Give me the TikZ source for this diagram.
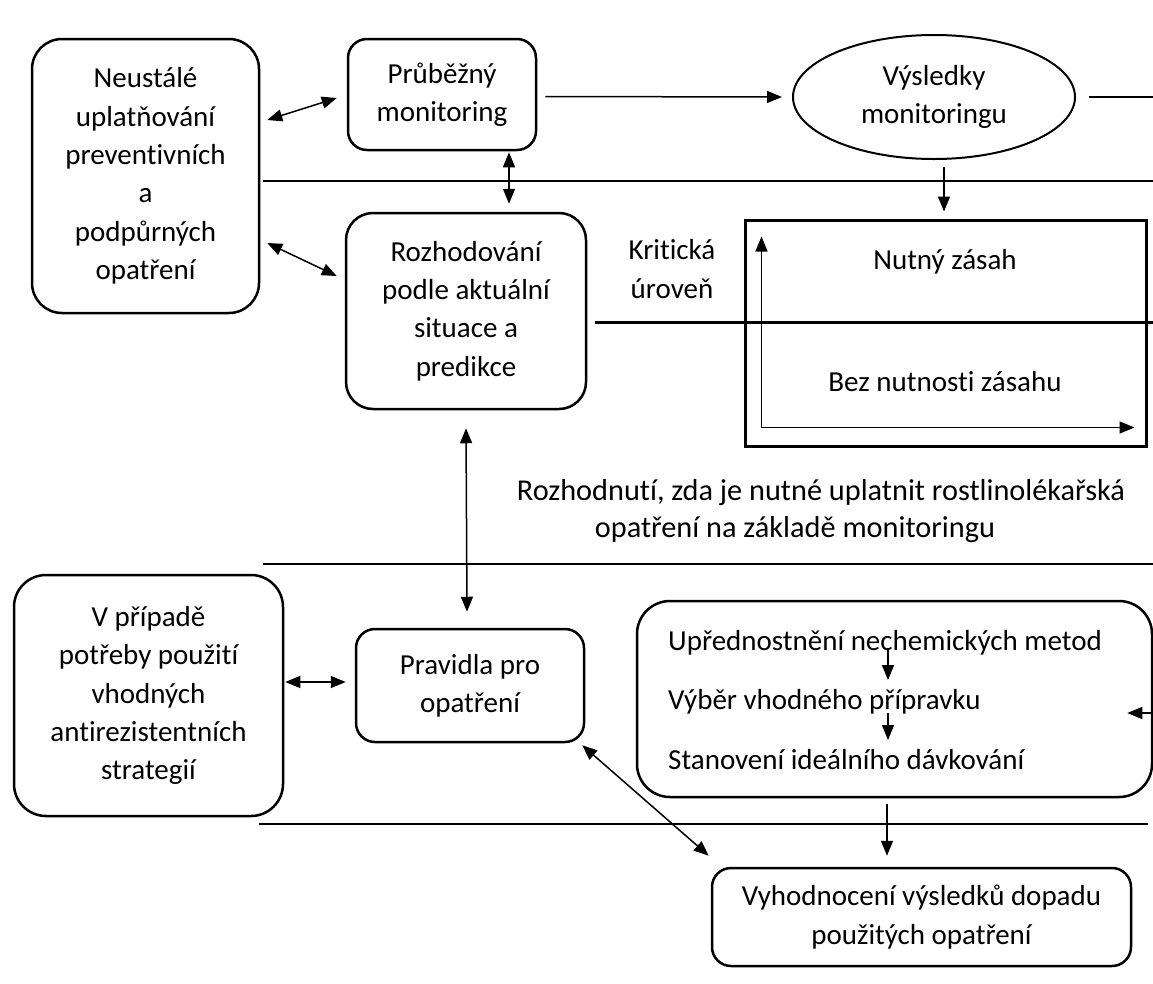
\documentclass[tikz,border=0pt]{standalone}
\usepackage{fontspec}
\setmainfont{Carlito}[Ligatures=NoCommon]
\usepackage{tikz}
\usetikzlibrary{shapes.geometric,arrows.meta}

\begin{document}
\begin{tikzpicture}[x=1pt, y=-1pt,
  font=\fontsize{29}{38.4}\selectfont,
  >={Triangle[length=15pt,width=12pt]},
  bigbox/.style={draw, line width=2.5pt, rounded corners=30pt, align=center, inner sep=0pt},
  smallbox/.style={bigbox, rounded corners=19pt},
  conn/.style={line width=1.5pt},
  divider/.style={line width=1.2pt},
  txt/.style={inner sep=0pt, align=center},
  bigtxt/.style={txt, font=\fontsize{30.3}{38.4}\selectfont}]
\useasboundingbox (0,0) rectangle (1153,983);

\node[bigbox, minimum width=227pt, minimum height=274pt] (prevent) at (145.5,176) {Neustálé\\uplatňování\\preventivních\\a\\podpůrných\\opatření};
\node[smallbox, minimum width=188pt, minimum height=111pt] (monitor) at (442,94.5) {Průběžný\\monitoring};
\node[draw, ellipse, line width=2pt, minimum width=282pt, minimum height=124pt, txt] (results) at (934,97) {Výsledky\\monitoringu};
\node[bigbox, rounded corners=27pt, minimum width=240pt, minimum height=196pt] (decide) at (466,311) {Rozhodování\\podle aktuální\\situace a\\predikce};
\node[txt] (critlabel) at (672,269) {Kritická\\úroveň};
\node[draw, line width=3pt, minimum width=401pt, minimum height=226pt, inner sep=0pt] (crit) at (945.5,333) {};
\node[txt] (need) at (945,262) {Nutný zásah};
\node[txt] (noneed) at (945,382) {Bez nutnosti zásahu};
\node[bigtxt] (question) at (821,493) {Rozhodnutí, zda je nutné uplatnit rostlinolékařská};
\node[bigtxt] (question2) at (795,530) {opatření na základě monitoringu};
\node[bigbox, rounded corners=32pt, minimum width=269pt, minimum height=241pt] (antires) at (148.5,695.5) {V případě\\potřeby použití\\vhodných\\antirezistentních\\strategií};
\node[smallbox, minimum width=228pt, minimum height=113pt] (rules) at (470,685.5) {Pravidla pro\\opatření};
\node[bigbox, rounded corners=33pt, minimum width=515pt, minimum height=196pt] (steps) at (894.5,699) {};
\node[txt, anchor=base west] (s1) at (668,650) {Upřednostnění nechemických metod};
\node[txt, anchor=base west] (s2) at (668,709) {Výběr vhodného přípravku};
\node[txt, anchor=base west] (s3) at (668,769) {Stanovení ideálního dávkování};
\node[smallbox, minimum width=419pt, minimum height=98pt] (evaluate) at (921.5,917) {Vyhodnocení výsledků dopadu\\použitých opatření};

\draw[divider] (263,181) -- (1153,181);
\draw[divider] (263,564) -- (1153,564);
\draw[divider] (259,824) -- (1148,824);
\draw[line width=3pt] (595,322) -- (1153,322);

\draw[conn, <->] ([xshift=7pt,yshift=56pt]prevent.east) -- ([xshift=-10pt,yshift=-3.5pt]monitor.west);
\draw[conn, <->] ([xshift=7pt,yshift=-67pt]prevent.east) -- ([xshift=-8pt,yshift=35pt]decide.west);
\draw[conn, <->] ([xshift=67pt,yshift=-1pt]monitor.south) -- ([xshift=43pt,yshift=8pt]decide.north);
\draw[conn, ->] ([xshift=8pt,yshift=-2pt]monitor.east) -- ([xshift=-10pt]results.west);
\coordinate (edgeA) at (1153,97);
\draw[conn] ([xshift=13pt]results.east) -- (edgeA);
\draw[conn, ->] ([xshift=10pt,yshift=-7pt]results.south) -- ([xshift=-1.5pt,yshift=7pt]crit.north);
\draw[conn, <->] ([xshift=18pt,yshift=-18pt]crit.north west) -- ([xshift=18pt,yshift=20pt]crit.south west) -- ([xshift=-13pt,yshift=20pt]crit.south east);
\draw[conn, <->] ([yshift=-18pt]decide.south) -- ([xshift=-3pt,yshift=16pt]rules.north);
\draw[conn, <->] ([xshift=1pt,yshift=13.5pt]antires.east) -- ([xshift=-9pt,yshift=3.5pt]rules.west);
\draw[conn, ->] ([xshift=220pt,yshift=2pt]s1.base west) -- ([xshift=220pt,yshift=29pt]s2.base west);
\draw[conn, ->] ([xshift=220pt,yshift=-4pt]s2.base west) -- ([xshift=220pt,yshift=29pt]s3.base west);
\coordinate (edgeB) at (1153,713);
\draw[conn, ->] (edgeB) -- ([xshift=-26pt,yshift=-14pt]steps.east);
\draw[conn, ->] ([xshift=-7.5pt,yshift=-6pt]steps.south) -- ([xshift=-34.5pt,yshift=11pt]evaluate.north);
\draw[conn, <->] ([xshift=-3pt,yshift=-2pt]rules.south east) -- ([xshift=-2pt,yshift=11pt]evaluate.north west);
\end{tikzpicture}
\end{document}
